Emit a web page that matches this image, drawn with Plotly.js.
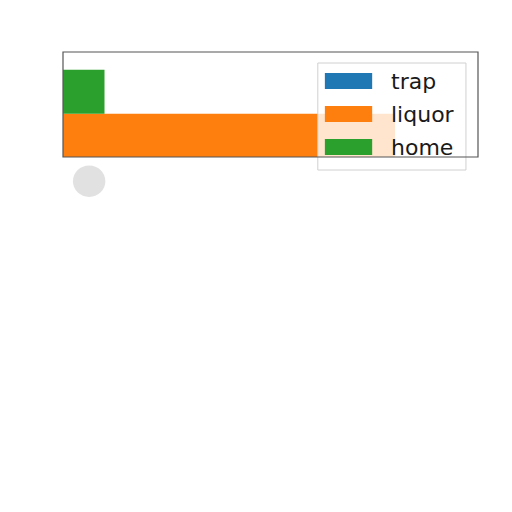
<!DOCTYPE html>
<html>
<head>
<meta charset="utf-8">
<script src="https://cdn.plot.ly/plotly-3.0.1.min.js"></script>
<style>
  html, body { margin: 0; padding: 0; background: white; }
  #chart { width: 512px; height: 512px; }
</style>
</head>
<body>
<div id="chart"></div>
<script>
// series names and values (single category, grouped horizontal bars)
const seriesNames = ["trap", "liquor", "home"];
const seriesValues = [5, 8, 1];
const seriesColors = ["#1f77b4", "#ff7f0e", "#2ca02c"];

const traces = seriesNames.map((name, i) => ({
    type: "bar",
    orientation: "h",
    name: name,
    x: [seriesValues[i]],
    y: [0],
    marker: {color: seriesColors[i], line: {width: 0}},
    showlegend: false,
}));

// hand-drawn legend box (matplotlib style, wide swatches)
const shapes = [
    {
        type: "rect", xref: "paper", yref: "paper",
        x0: 0.614, x1: 0.971, y0: -0.124, y1: 0.895,
        fillcolor: "rgba(255,255,255,0.8)",
        line: {color: "#d0d0d0", width: 1},
        layer: "above",
    },
    // plot frame
    {
        type: "rect", xref: "paper", yref: "paper",
        x0: 0, x1: 1, y0: 0, y1: 1,
        line: {color: "#555555", width: 1.2},
        layer: "above",
    },
    // faint grey smudge below the axes
    {
        type: "circle", xref: "paper", yref: "paper",
        x0: 0.024, x1: 0.102, y0: -0.38, y1: -0.08,
        fillcolor: "rgba(205,205,205,0.6)",
        line: {width: 0},
    },
];

const rowCenters = [81, 114, 147];
const annotations = [];
seriesNames.forEach((name, i) => {
    const yc = 1 - (rowCenters[i] - 52) / 105;
    shapes.push({
        type: "rect", xref: "paper", yref: "paper",
        x0: 0.631, x1: 0.745,
        y0: yc - 8 / 105, y1: yc + 8 / 105,
        fillcolor: seriesColors[i],
        line: {width: 0},
        layer: "above",
    });
    annotations.push({
        xref: "paper", yref: "paper",
        x: 0.786, y: yc,
        xanchor: "left", yanchor: "middle",
        text: name,
        showarrow: false,
        font: {family: "DejaVu Sans", size: 22, color: "#1a1a1a"},
    });
});

const layout = {
    width: 512,
    height: 512,
    margin: {l: 63, r: 34, t: 52, b: 355, pad: 0},
    barmode: "group",
    bargap: 0.2,
    bargroupgap: 0,
    showlegend: false,
    paper_bgcolor: "white",
    plot_bgcolor: "white",
    xaxis: {
        range: [0, 10],
        showgrid: false, zeroline: false,
        showticklabels: false, ticks: "",
        fixedrange: true,
    },
    yaxis: {
        range: [-0.128, 0.508],
        showgrid: false, zeroline: false,
        showticklabels: false, ticks: "",
        fixedrange: true,
    },
    shapes: shapes,
    annotations: annotations,
    font: {family: "DejaVu Sans"},
};

Plotly.newPlot("chart", traces, layout, {displayModeBar: false, staticPlot: true});
</script>
</body>
</html>
